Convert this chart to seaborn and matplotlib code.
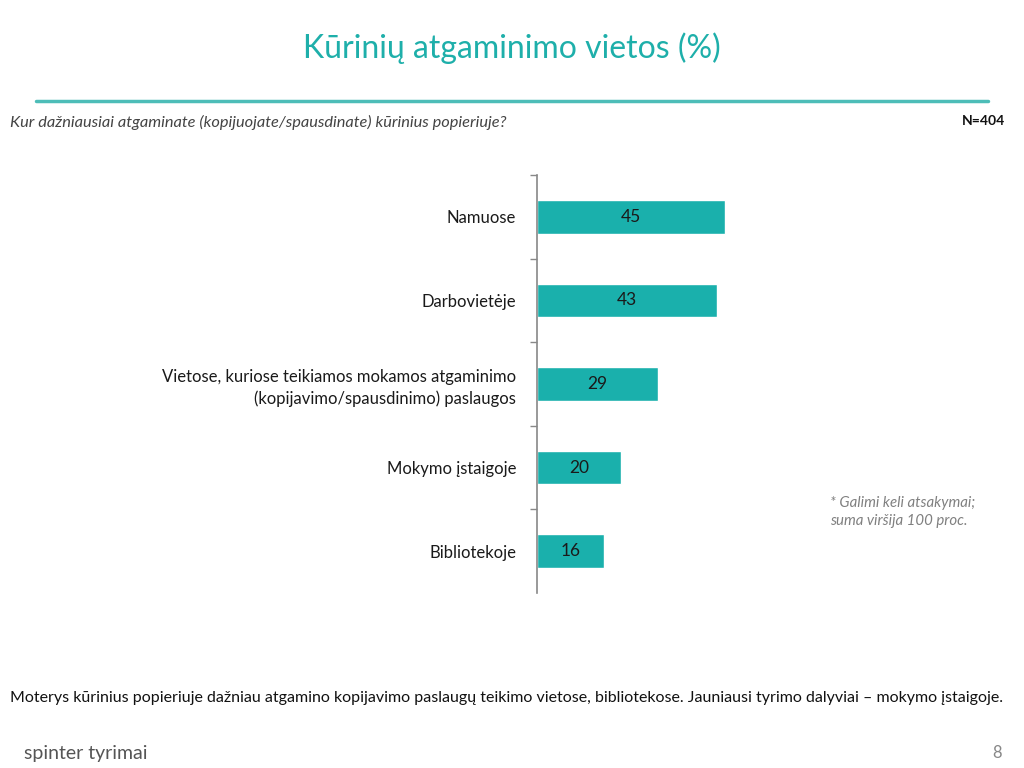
import pandas as pd
import matplotlib.pyplot as plt
import seaborn as sns

categories = [
    'Namuose',
    'Darbovietėje',
    'Vietose, kuriose teikiamos mokamos atgaminimo\n(kopijavimo/spausdinimo) paslaugos',
    'Mokymo įstaigoje',
    'Bibliotekoje',
]
values = [45, 43, 29, 20, 16]

TEAL = '#1AB0AC'

def main():
    df = pd.DataFrame({'Vieta': categories, 'Proc': values})

    sns.set_theme(style='white')
    plt.rcParams['font.family'] = ['Lato', 'DejaVu Sans']

    fig = plt.figure(figsize=(10.24, 7.68), dpi=100)
    ax = fig.add_axes([537 / 1024, (768 - 593) / 768, 418 / 1024, 418 / 768])

    sns.barplot(data=df, y='Vieta', x='Proc', orient='h', color=TEAL,
                saturation=1, width=0.4, ax=ax)

    ax.set_xlim(0, 100)
    ax.set_ylim(len(categories) - 0.5, -0.5)
    ax.set_xlabel('')
    ax.set_ylabel('')
    ax.set_xticks([])
    for s in ['top', 'right', 'bottom']:
        ax.spines[s].set_visible(False)
    ax.spines['left'].set_color('#888888')
    ax.spines['left'].set_linewidth(1.2)

    # ticks at category boundaries (not the bottom end), labels at centres
    ax.set_yticks([i - 0.5 for i in range(len(categories))], minor=False)
    ax.set_yticklabels([])
    ax.tick_params(axis='y', which='major', left=True, length=5, width=1, color='#888888')
    ax.set_yticks(range(len(categories)), minor=True)
    ax.set_yticklabels(categories, minor=True, fontsize=12, color='#1a1a1a',
                       ha='right', linespacing=1.4)
    ax.tick_params(axis='y', which='minor', length=0, pad=15)

    for i, v in enumerate(values):
        ax.text(v / 2, i, f'{v}', ha='center', va='center', fontsize=12.5, color='#1a1a1a')

    # header
    fig.text(0.5, 1 - 48 / 768, 'Kūrinių atgaminimo vietos (%)', ha='center', va='center',
             fontsize=23, color='#1EAFAA')
    fig.add_artist(plt.Line2D([36 / 1024, 988 / 1024], [1 - 101 / 768, 1 - 101 / 768],
                              color='#4DBDB8', linewidth=2.5))
    fig.text(10 / 1024, 1 - 122 / 768,
             'Kur dažniausiai atgaminate (kopijuojate/spausdinate) kūrinius popieriuje?',
             ha='left', va='center', fontsize=11.8, style='italic', color='#444444')
    fig.text(1005 / 1024, 1 - 121 / 768, 'N=404', ha='right', va='center',
             fontsize=10, fontweight='bold', color='#111111')

    fig.text(830 / 1024, 1 - 512 / 768, '* Galimi keli atsakymai;\nsuma viršija 100 proc.',
             ha='left', va='center', fontsize=10.8, style='italic', color='#808080',
             linespacing=1.45)

    fig.text(10 / 1024, 1 - 698 / 768,
             'Moterys kūrinius popieriuje dažniau atgamino kopijavimo paslaugų teikimo vietose, '
             'bibliotekose. Jauniausi tyrimo dalyviai – mokymo įstaigoje.',
             ha='left', va='center', fontsize=11.5, color='#111111')

    fig.text(24 / 1024, 1 - 753 / 768, 'spinter tyrimai', ha='left', va='center',
             fontsize=14, color='#555555')
    fig.text(1002 / 1024, 1 - 753 / 768, '8', ha='right', va='center',
             fontsize=12, color='#888888')

    fig.savefig('out.png', dpi=100)
    plt.close(fig)

if __name__ == '__main__':
    main()
